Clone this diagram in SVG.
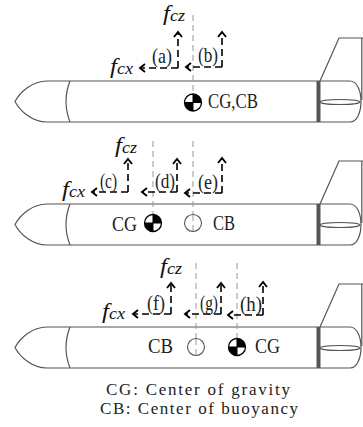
<svg xmlns="http://www.w3.org/2000/svg" xmlns:xlink="http://www.w3.org/1999/xlink" width="363" height="427" viewBox="0 0 363 427">
  <style>
    .hull { fill: #fff; stroke: #555; stroke-width: 1.2; }
    .thin { fill: none; stroke: #555; stroke-width: 1.2; }
    .bar { stroke: #555; stroke-width: 4; }
    .axis { stroke: #999; stroke-width: 1; stroke-dasharray: 6 4; fill: none; }
    .force { stroke: #000; stroke-width: 1.6; stroke-dasharray: 7 4; fill: none; marker-end: url(#head); }
    .lbl { font-family: "Liberation Serif", "Times New Roman", serif; font-size: 21px; fill: #222; }
    .sym { font-family: "Liberation Serif", "Times New Roman", serif; font-style: italic; font-size: 22px; fill: #111; }
    .sub { font-size: 16px; }
    .legend { font-family: "Liberation Serif", "Times New Roman", serif; font-size: 17px; fill: #222; }
  </style>
  <defs>
    <marker id="head" markerWidth="10" markerHeight="10" viewBox="-6 -5 8 10" refX="0" refY="0" orient="auto" markerUnits="userSpaceOnUse">
      <path d="M-5,-4 L0,0 L-5,4" fill="none" stroke="#000" stroke-width="1.9"/>
    </marker>
    <!-- vehicle outline, drawn for the top row (body y 81..122) -->
    <g id="hull">
      <path class="hull" d="M47,81 H350 C357,81 361,91 361,101.5 C361,112 357,122 350,122 H47 C32,122 20,111 15,101.5 C20,92 32,81 47,81 Z"/>
      <path class="thin" d="M70,81 Q62,101.5 70,122"/>
      <line class="bar" x1="318.5" y1="81" x2="318.5" y2="122"/>
      <ellipse class="thin" cx="340" cy="102" rx="20" ry="2.5"/>
      <path class="thin" d="M320,81 L339,38 H363 M361.8,38 V100"/>
    </g>
    <!-- centre of gravity symbol -->
    <g id="cg">
      <circle r="8.5" fill="#fff" stroke="#000" stroke-width="1.3"/>
      <path d="M0,0 V-8.5 A8.5,8.5 0 0 1 8.5,0 Z M0,0 V8.5 A8.5,8.5 0 0 1 -8.5,0 Z" fill="#000"/>
      <path d="M-8.5,0 H8.5 M0,-8.5 V8.5" stroke="#000" stroke-width="1"/>
    </g>
    <!-- centre of buoyancy symbol -->
    <g id="cb">
      <circle r="8.5" fill="#fff" stroke="#555" stroke-width="1.1"/>
    </g>
  </defs>

  <!-- vehicle bodies -->
  <g id="vehicle-a">
    <use xlink:href="#hull"/>
  </g>
  <g id="vehicle-b">
    <use xlink:href="#hull" transform="translate(0,123)"/>
  </g>
  <g id="vehicle-c">
    <use xlink:href="#hull" transform="translate(0,246)"/>
  </g>

  <!-- reference axes through CG / CB -->
  <g id="axes">
    <line class="axis" x1="193" y1="15" x2="193" y2="94"/>
    <line class="axis" x1="153" y1="141" x2="153" y2="215"/>
    <line class="axis" x1="193" y1="141" x2="193" y2="232"/>
    <line class="axis" x1="196" y1="263" x2="196" y2="356"/>
    <line class="axis" x1="237" y1="263" x2="237" y2="338"/>
  </g>

  <!-- CG and CB markers -->
  <g id="markers">
    <use xlink:href="#cg" x="193" y="102.5"/>
    <use xlink:href="#cg" x="153" y="223"/>
    <use xlink:href="#cb" x="193" y="223"/>
    <line class="axis" x1="193" y1="215" x2="193" y2="232"/>
    <use xlink:href="#cb" x="196" y="347"/>
    <line class="axis" x1="196" y1="339" x2="196" y2="356"/>
    <use xlink:href="#cg" x="237" y="347"/>
  </g>

  <!-- force components -->
  <g id="connectors">
    <line class="force" x1="178" y1="68" x2="178" y2="32"/>
    <line class="force" x1="178" y1="68" x2="140" y2="68"/>
    <line class="force" x1="222" y1="67" x2="222" y2="32"/>
    <line class="force" x1="222" y1="67" x2="186" y2="67"/>

    <line class="force" x1="128" y1="192" x2="128" y2="159"/>
    <line class="force" x1="128" y1="192" x2="92" y2="192"/>
    <line class="force" x1="177" y1="192" x2="177" y2="159"/>
    <line class="force" x1="177" y1="192" x2="142" y2="192"/>
    <line class="force" x1="222" y1="193" x2="222" y2="158"/>
    <line class="force" x1="222" y1="193" x2="185" y2="193"/>

    <line class="force" x1="171" y1="314" x2="171" y2="283"/>
    <line class="force" x1="171" y1="314" x2="133" y2="314"/>
    <line class="force" x1="221" y1="314" x2="221" y2="283"/>
    <line class="force" x1="221" y1="314" x2="185" y2="314"/>
    <line class="force" x1="263" y1="315" x2="263" y2="282"/>
    <line class="force" x1="263" y1="315" x2="228" y2="315"/>
  </g>

  <!-- labels -->
  <g id="labels">
    <text class="sym" x="163" y="20" textLength="22" lengthAdjust="spacingAndGlyphs">f<tspan class="sub" dy="1">cz</tspan></text>
    <text class="sym" x="110" y="73" textLength="23" lengthAdjust="spacingAndGlyphs">f<tspan class="sub" dy="1">cx</tspan></text>
    <text class="lbl" x="152" y="63" textLength="20" lengthAdjust="spacingAndGlyphs">(a)</text>
    <text class="lbl" x="198" y="62" textLength="20" lengthAdjust="spacingAndGlyphs">(b)</text>
    <text class="lbl" x="208" y="108" textLength="50" lengthAdjust="spacingAndGlyphs">CG,CB</text>

    <text class="sym" x="115" y="152" textLength="22" lengthAdjust="spacingAndGlyphs">f<tspan class="sub" dy="1">cz</tspan></text>
    <text class="sym" x="62" y="196" textLength="23" lengthAdjust="spacingAndGlyphs">f<tspan class="sub" dy="1">cx</tspan></text>
    <text class="lbl" x="100" y="188" textLength="17" lengthAdjust="spacingAndGlyphs">(c)</text>
    <text class="lbl" x="155" y="188" textLength="20" lengthAdjust="spacingAndGlyphs">(d)</text>
    <text class="lbl" x="198" y="189" textLength="20" lengthAdjust="spacingAndGlyphs">(e)</text>
    <text class="lbl" x="112" y="231" textLength="25" lengthAdjust="spacingAndGlyphs">CG</text>
    <text class="lbl" x="213" y="230" textLength="22" lengthAdjust="spacingAndGlyphs">CB</text>

    <text class="sym" x="160" y="273" textLength="22" lengthAdjust="spacingAndGlyphs">f<tspan class="sub" dy="1">cz</tspan></text>
    <text class="sym" x="102" y="318" textLength="23" lengthAdjust="spacingAndGlyphs">f<tspan class="sub" dy="1">cx</tspan></text>
    <text class="lbl" x="147" y="310" textLength="18" lengthAdjust="spacingAndGlyphs">(f)</text>
    <text class="lbl" x="200" y="310" textLength="18" lengthAdjust="spacingAndGlyphs">(g)</text>
    <text class="lbl" x="240" y="311" textLength="22" lengthAdjust="spacingAndGlyphs">(h)</text>
    <text class="lbl" x="148" y="353" textLength="25" lengthAdjust="spacingAndGlyphs">CB</text>
    <text class="lbl" x="255" y="353" textLength="25" lengthAdjust="spacingAndGlyphs">CG</text>
  </g>

  <!-- legend -->
  <g id="legend">
    <text class="legend" x="106" y="395" textLength="184" lengthAdjust="spacing">CG: Center of gravity</text>
    <text class="legend" x="100" y="414" textLength="198" lengthAdjust="spacing">CB: Center of buoyancy</text>
  </g>
</svg>
